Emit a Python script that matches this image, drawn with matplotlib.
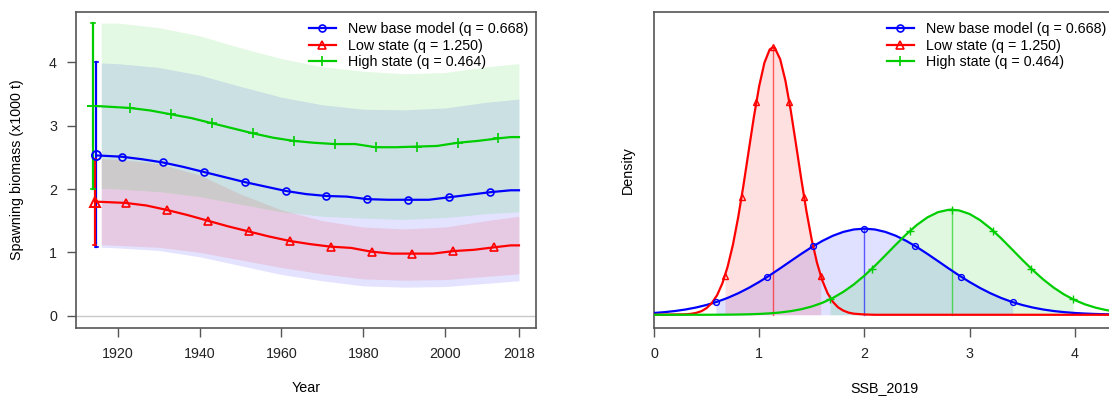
import matplotlib.pyplot as plt

plt.rcParams['font.family'] = ['Liberation Sans', 'DejaVu Sans']
plt.rcParams['font.size'] = 10.3

# ===== DATA =====
labels = ['New base model (q = 0.668)', 'Low state (q = 1.250)', 'High state (q = 0.464)']
colors = ['#0000FF', '#FF0000', '#00CD00']
markers = ['o', '^', '+']

# Spawning biomass time series (x1000 t), marker every second point
blue_years = [1915, 1921, 1926, 1931, 1936, 1941, 1946, 1951, 1956, 1961, 1966, 1971, 1976,
              1981, 1986, 1991, 1996, 2001, 2006, 2011, 2016, 2018]
blue_ssb = [2.53, 2.51, 2.47, 2.42, 2.35, 2.27, 2.19, 2.11, 2.04, 1.97, 1.92, 1.89, 1.88,
            1.84, 1.83, 1.83, 1.83, 1.87, 1.91, 1.95, 1.98, 1.98]
red_years = [1915, 1922, 1927, 1932, 1937, 1942, 1947, 1952, 1957, 1962, 1967, 1972, 1977,
             1982, 1987, 1992, 1997, 2002, 2007, 2012, 2016, 2018]
red_ssb = [1.80, 1.78, 1.74, 1.67, 1.59, 1.50, 1.41, 1.33, 1.25, 1.18, 1.13, 1.09, 1.07,
           1.01, 0.98, 0.98, 0.98, 1.02, 1.04, 1.08, 1.11, 1.11]
green_years = [1915, 1923, 1928, 1933, 1938, 1943, 1948, 1953, 1958, 1963, 1968, 1973, 1978,
               1983, 1988, 1993, 1998, 2003, 2008, 2013, 2016, 2018]
green_ssb = [3.31, 3.28, 3.24, 3.18, 3.12, 3.04, 2.96, 2.88, 2.81, 2.76, 2.73, 2.71, 2.71,
             2.66, 2.66, 2.67, 2.68, 2.73, 2.76, 2.80, 2.82, 2.82]

# 95% intervals
band_years = [1916, 1920, 1930, 1940, 1950, 1960, 1970, 1980, 1990, 2000, 2010, 2018]
blue_lo = [1.08, 1.07, 1.03, 0.93, 0.79, 0.65, 0.55, 0.47, 0.45, 0.46, 0.51, 0.55]
blue_hi = [3.99, 3.98, 3.92, 3.80, 3.62, 3.45, 3.33, 3.26, 3.25, 3.28, 3.37, 3.42]
red_lo = [1.12, 1.11, 1.08, 1.00, 0.88, 0.76, 0.66, 0.58, 0.56, 0.57, 0.62, 0.66]
red_hi = [2.48, 2.47, 2.40, 2.22, 1.92, 1.67, 1.50, 1.40, 1.37, 1.40, 1.50, 1.57]
green_lo = [2.01, 2.00, 1.96, 1.88, 1.76, 1.64, 1.57, 1.54, 1.52, 1.55, 1.61, 1.64]
green_hi = [4.62, 4.62, 4.55, 4.42, 4.23, 4.06, 3.93, 3.86, 3.82, 3.84, 3.93, 3.98]

# Initial (virgin) estimate with interval
init_year = [1914.8, 1914.4, 1914.0]
init_ssb = [2.53, 1.80, 3.31]
init_lo = [1.08, 1.12, 2.00]
init_hi = [4.00, 2.48, 4.62]

# SSB_2019 densities
blue_x = [0.0, 0.1, 0.2, 0.3, 0.4, 0.5, 0.6, 0.7, 0.8, 0.9, 1.0, 1.1, 1.2, 1.3, 1.4, 1.5, 1.6,
          1.7, 1.8, 1.9, 2.0, 2.1, 2.2, 2.3, 2.4, 2.5, 2.6, 2.7, 2.8, 2.9, 3.0, 3.1, 3.2, 3.3,
          3.4, 3.5, 3.6, 3.7, 3.8, 3.9, 4.0, 4.1, 4.2, 4.3, 4.4]
blue_d = [0.0117, 0.0170, 0.0243, 0.0341, 0.0469, 0.0633, 0.0837, 0.1085, 0.1382, 0.1725,
          0.2112, 0.2536, 0.2988, 0.3454, 0.3915, 0.4353, 0.4748, 0.5080, 0.5330, 0.5487,
          0.554, 0.5487, 0.5330, 0.5080, 0.4748, 0.4353, 0.3915, 0.3454, 0.2988, 0.2536,
          0.2112, 0.1725, 0.1382, 0.1085, 0.0837, 0.0633, 0.0469, 0.0341, 0.0243, 0.0170,
          0.0117, 0.0079, 0.0052, 0.0034, 0.0021]
red_x = [0.0, 0.30, 0.35, 0.40, 0.45, 0.50, 0.55, 0.60, 0.65, 0.70, 0.75, 0.80, 0.85, 0.90,
         0.95, 1.00, 1.05, 1.10, 1.13, 1.15, 1.20, 1.25, 1.30, 1.35, 1.40, 1.45, 1.50, 1.55,
         1.60, 1.65, 1.70, 1.75, 1.80, 1.85, 1.90, 2.00, 2.10, 4.40]
red_d = [0.0, 0.003, 0.006, 0.012, 0.023, 0.043, 0.076, 0.126, 0.202, 0.309, 0.449, 0.625,
         0.830, 1.052, 1.273, 1.470, 1.621, 1.706, 1.720, 1.714, 1.643, 1.504, 1.315, 1.097,
         0.874, 0.664, 0.482, 0.334, 0.221, 0.139, 0.084, 0.048, 0.027, 0.014, 0.007, 0.002,
         0.0, 0.0]
green_x = [0.0, 0.5, 0.6, 0.7, 0.8, 0.9, 1.0, 1.1, 1.2, 1.3, 1.4, 1.5, 1.6, 1.7, 1.8, 1.9,
           2.0, 2.1, 2.2, 2.3, 2.4, 2.5, 2.6, 2.7, 2.8, 2.83, 2.9, 3.0, 3.1, 3.2, 3.3, 3.4,
           3.5, 3.6, 3.7, 3.8, 3.9, 4.0, 4.1, 4.2, 4.3, 4.4]
green_d = [0.0, 0.0002, 0.0006, 0.0010, 0.0018, 0.0032, 0.0055, 0.0092, 0.0149, 0.0234,
           0.0358, 0.0533, 0.0769, 0.1080, 0.1473, 0.1952, 0.2513, 0.3144, 0.3823, 0.4516,
           0.5183, 0.5781, 0.6265, 0.6598, 0.6751, 0.676, 0.6713, 0.6485, 0.6088, 0.5553,
           0.4922, 0.4239, 0.3548, 0.2885, 0.2279, 0.1750, 0.1305, 0.0946, 0.0667, 0.0456,
           0.0303, 0.0196]

# quantiles 2.5, 10, 25, 50, 75, 90, 97.5 %
blue_q = [0.589, 1.077, 1.515, 2.0, 2.485, 2.923, 3.411]
blue_qd = [0.081, 0.244, 0.441, 0.554, 0.441, 0.244, 0.081]
red_q = [0.675, 0.833, 0.974, 1.13, 1.286, 1.427, 1.585]
red_qd = [0.252, 0.757, 1.370, 1.720, 1.370, 0.757, 0.252]
green_q = [1.674, 2.074, 2.432, 2.83, 3.228, 3.586, 3.986]
green_qd = [0.099, 0.297, 0.539, 0.676, 0.539, 0.297, 0.099]

series = [(blue_years, blue_ssb, blue_lo, blue_hi),
          (red_years, red_ssb, red_lo, red_hi),
          (green_years, green_ssb, green_lo, green_hi)]
dens = [(blue_x, blue_d, blue_q, blue_qd),
        (red_x, red_d, red_q, red_qd),
        (green_x, green_d, green_q, green_qd)]

msize_ts = [5.0, 6.0, 7.0]
msize_d = [4.2, 5.0, 6.0]
frame_col = '#555555'

fig = plt.figure(figsize=(11.09, 3.97), dpi=100)
ax1 = fig.add_axes([76 / 1109, (397 - 327.7) / 397, 460 / 1109, 316 / 397])
ax2 = fig.add_axes([654 / 1109, (397 - 327.7) / 397, 460 / 1109, 316 / 397])

# ---- left: time series ----
for (yrs, ssb, lo, hi), col in zip(series, colors):
    ax1.fill_between(band_years, lo, hi, color=col, alpha=0.11, linewidth=0)

ax1.axhline(0, color='#C8C8C8', lw=1, zorder=1)

handles = []
for i, ((yrs, ssb, lo, hi), col, mk) in enumerate(zip(series, colors, markers)):
    ax1.plot([init_year[i]] * 2, [init_lo[i], init_hi[i]], color=col, lw=1.6, zorder=3)
    ax1.plot([init_year[i] - 0.4, init_year[i] + 0.4], [init_hi[i]] * 2, color=col, lw=1.2, zorder=3)
    ax1.plot([init_year[i] - 0.4, init_year[i] + 0.4], [init_lo[i]] * 2, color=col, lw=1.2, zorder=3)
    ax1.plot(init_year[i], init_ssb[i], marker=mk, color=col, mfc='none', ms=msize_ts[i] * 1.3,
             mew=1.4, zorder=4)
    h, = ax1.plot(yrs, ssb, color=col, lw=1.6, marker=mk, mfc='none', ms=msize_ts[i], mew=1.2,
                  markevery=list(range(1, 20, 2)), zorder=4)
    handles.append(h)

ax1.set_xlim(1909.84, 2022.16)
ax1.set_ylim(-0.19, 4.80)
ax1.set_xticks([1920, 1940, 1960, 1980, 2000, 2018])
ax1.set_yticks([0, 1, 2, 3, 4])
fig.text(17 / 1109, (397 - 170) / 397, 'Spawning biomass (x1000 t)', rotation=90,
         ha='center', va='center')
fig.text(306 / 1109, (397 - 388) / 397, 'Year', ha='center', va='center')
ax1.legend(handles, labels, loc='upper right', bbox_to_anchor=(1 - 7.4 / 460, 1 - 10.5 / 316),
           frameon=False, borderpad=0, borderaxespad=0, labelspacing=0.17,
           handlelength=1.9, handletextpad=0.86)

# ---- right: SSB_2019 densities ----
dhandles = []
for i, ((xs, ds, q, qd), col, mk) in enumerate(zip(dens, colors, markers)):
    # shade between 2.5% and 97.5% quantiles
    px = [q[0]] + [x for x in xs if q[0] < x < q[-1]] + [q[-1]]
    py = [qd[0]] + [d for x, d in zip(xs, ds) if q[0] < x < q[-1]] + [qd[-1]]
    ax2.fill_between(px, 0, py, color=col, alpha=0.12, linewidth=0)
    ax2.plot([q[3], q[3]], [0, qd[3]], color=col, lw=1, alpha=0.6)

for i, ((xs, ds, q, qd), col, mk) in enumerate(zip(dens, colors, markers)):
    ax2.plot(xs, ds, color=col, lw=1.6, zorder=3)
    ax2.plot(q, qd, linestyle='none', marker=mk, color=col, mfc='none', ms=msize_d[i], mew=1.0,
             zorder=4)
    h, = ax2.plot([], [], color=col, lw=1.6, marker=mk, mfc='none', ms=msize_ts[i], mew=1.2)
    dhandles.append(h)

ax2.set_xlim(0, 4.374)
ax2.set_ylim(-0.083, 1.949)
ax2.set_xticks([0, 1, 2, 3, 4])
ax2.set_yticks([])
fig.text(628 / 1109, (397 - 170) / 397, 'Density', rotation=90, ha='center', va='center')
fig.text(884 / 1109, (397 - 388) / 397, 'SSB_2019', ha='center', va='center')
ax2.legend(dhandles, labels, loc='upper right', bbox_to_anchor=(1 - 7.4 / 460, 1 - 10.5 / 316),
           frameon=False, borderpad=0, borderaxespad=0, labelspacing=0.17,
           handlelength=1.9, handletextpad=0.86)

for ax in (ax1, ax2):
    for sp in ax.spines.values():
        sp.set_color(frame_col)
        sp.set_linewidth(1.2)
    ax.tick_params(length=6.2, width=1, color=frame_col, labelcolor='#222222', pad=7.5)

fig.savefig('out.png', dpi=100)
